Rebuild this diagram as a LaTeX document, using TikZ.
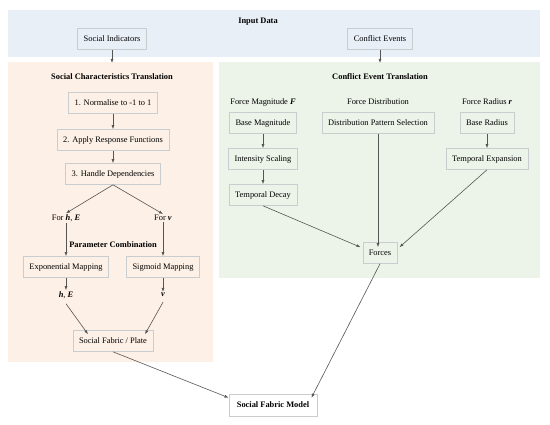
\documentclass[tikz,border=0pt]{standalone}
\usepackage{fontspec}
\setmainfont{Liberation Serif}
\usetikzlibrary{positioning,arrows.meta}
\tikzset{% change default arrow tips
    >={Latex[length=4pt,width=3pt]}
}
\definecolor{bandblue}{HTML}{E9EFF7}
\definecolor{panelpink}{HTML}{FDF0E6}
\definecolor{panelgreen}{HTML}{ECF4EA}
\definecolor{boxline}{HTML}{C9CDD0}
\definecolor{arrowgray}{HTML}{555555}
\tikzset{
    txt/.style={font=\fontsize{8.4}{10}\selectfont, inner sep=1pt},
    heading/.style={font=\bfseries\fontsize{8.4}{10}\selectfont, inner sep=1pt},
    box/.style={draw=boxline, line width=0.6pt, minimum height=21pt, inner xsep=6pt,
        font=\fontsize{8.4}{10}\selectfont},
    flow/.style={->, draw=arrowgray, line width=0.6pt}
}
\newcommand{\bi}[1]{\textbf{\textit{#1}}}

\begin{document}
\begin{tikzpicture}[x=1pt,y=-1pt]
    \useasboundingbox (0,0) rectangle (550,425);

    % panels
    \fill[bandblue] (8,10) rectangle (540,57);
    \fill[panelpink] (8,62) rectangle (213,362);
    \fill[panelgreen] (219,62) rectangle (540,278);

    % input data
    \node[heading] (inputtitle) at (258,22) {Input Data};
    \node[box, fill=bandblue] (indicators) at (112,39) {Social Indicators};
    \node[box, fill=bandblue] (events) at (380,39) {Conflict Events};
    \coordinate (pinktop) at (112,63);
    \coordinate (greentop) at (380,63);

    % social characteristics translation
    \node[heading] (sctitle) at (112,77) {Social Characteristics Translation};
    \node[box, fill=panelpink] (normalise) at (113,103) {1. Normalise to -1 to 1};
    \node[box, fill=panelpink] (response) at (113,140) {2. Apply Response Functions};
    \node[box, fill=panelpink] (depend) at (113,174) {3. Handle Dependencies};
    \node[txt] (forhE) at (66,218) {For \bi{h}, \bi{E}};
    \node[txt] (forv) at (163,218) {For \bi{v}};
    \node[heading] (combtitle) at (113,245) {Parameter Combination};
    \node[box, fill=panelpink] (expmap) at (66,267) {Exponential Mapping};
    \node[box, fill=panelpink] (sigmap) at (163,267) {Sigmoid Mapping};
    \node[txt] (hE) at (66,295) {\bi{h}, \bi{E}};
    \node[txt] (v) at (163,295) {\bi{v}};
    \node[box, fill=panelpink] (plate) at (113,341) {Social Fabric / Plate};

    % conflict event translation
    \node[heading] (cetitle) at (380,77) {Conflict Event Translation};
    \node[txt] (magtitle) at (263,102) {Force Magnitude \bi{F}};
    \node[txt] (disttitle) at (378,102) {Force Distribution};
    \node[txt] (radtitle) at (487,102) {Force Radius \bi{r}};
    \node[box, fill=panelgreen] (basemag) at (263,123) {Base Magnitude};
    \node[box, fill=panelgreen] (pattern) at (378,123) {Distribution Pattern Selection};
    \node[box, fill=panelgreen] (baserad) at (487,123) {Base Radius};
    \node[box, fill=panelgreen] (intensity) at (263,159) {Intensity Scaling};
    \node[box, fill=panelgreen] (expansion) at (487,159) {Temporal Expansion};
    \node[box, fill=panelgreen] (decay) at (263,195) {Temporal Decay};
    \node[box, fill=panelgreen] (forces) at (380,253) {Forces};

    % output
    \node[box, fill=white, font=\bfseries\fontsize{8.4}{10}\selectfont, minimum height=22pt,
        inner xsep=8pt] (model) at (273,405) {Social Fabric Model};

    % connectors
    \draw[flow] (indicators) -- (pinktop);
    \draw[flow] (events) -- (greentop);
    \draw[flow] (normalise) -- (response);
    \draw[flow] (response) -- (depend);
    \draw[flow] (depend.south) -- (forhE.north);
    \draw[flow] (depend.south) -- (forv.north);
    \draw[flow] (forhE) -- (expmap);
    \draw[flow] (forv) -- (sigmap);
    \draw[flow] (expmap) -- (hE);
    \draw[flow] (sigmap) -- (v);
    \draw[flow] ([yshift=-4pt]hE.south) -- ([xshift=-25pt,yshift=-4pt]plate.north);
    \draw[flow] ([yshift=-4pt]v.south) -- ([xshift=32pt,yshift=-4pt]plate.north);
    \draw[flow] (plate.south) -- ([yshift=-4pt]model.north west);
    \draw[flow] (basemag) -- (intensity);
    \draw[flow] (intensity) -- (decay);
    \draw[flow] (baserad) -- (expansion);
    \draw[flow] (decay.south) -- ([xshift=-2pt,yshift=-5pt]forces.north west);
    \draw[flow] (pattern.south) -- ([yshift=-5pt]pattern.south |- forces.north);
    \draw[flow] (expansion.south) -- ([xshift=2pt,yshift=-5pt]forces.north east);
    \draw[flow] (forces.south) -- ([xshift=-6pt,yshift=-4pt]model.north east);
\end{tikzpicture}
\end{document}
